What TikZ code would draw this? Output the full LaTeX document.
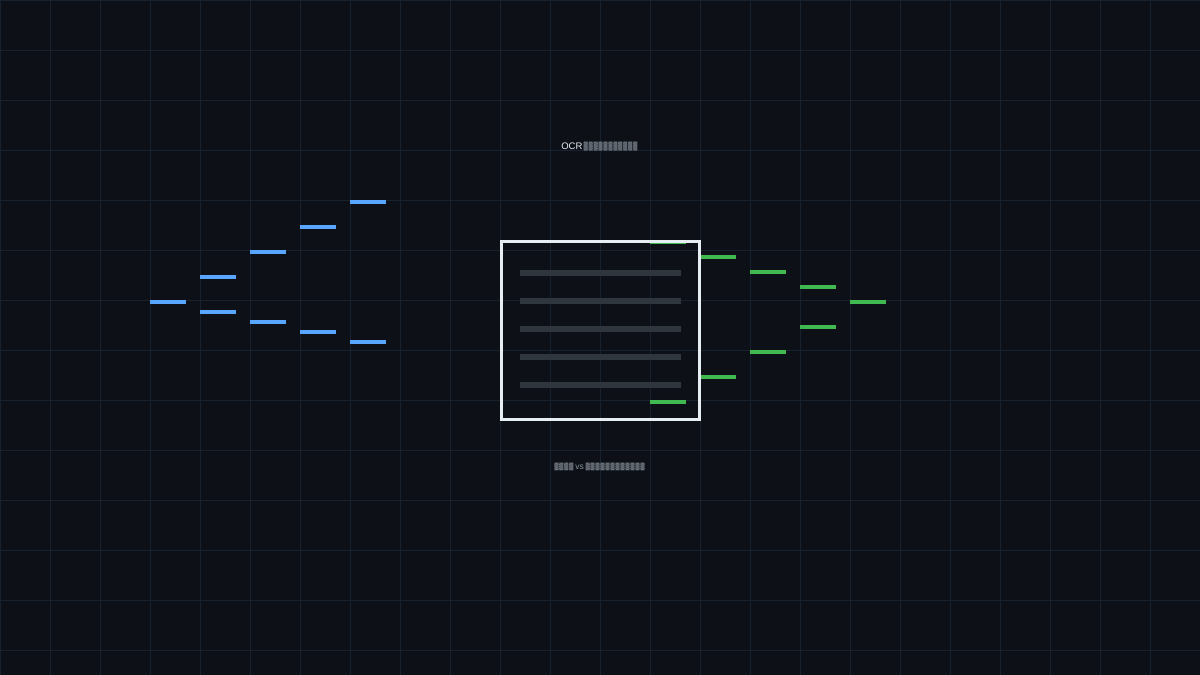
\documentclass[tikz,border=0pt]{standalone}
\usepackage{fontspec}
\setmainfont{Liberation Sans}
\newfontfamily\dv{DejaVu Sans}
\usepackage{graphicx}
\definecolor{bgc}{HTML}{0D1117}
\definecolor{gridc}{HTML}{18222F}
\definecolor{bluec}{HTML}{58A6FF}
\definecolor{greenc}{HTML}{3FB950}
\definecolor{framec}{HTML}{E6EDF3}
\definecolor{linec}{HTML}{30363D}
\definecolor{tofuc}{HTML}{8B949E}
\newcommand{\tf}{\scalebox{0.55}[1.2]{\dv ▩}}
\newcommand{\tfs}{\scalebox{0.62}[1.15]{\dv ▩}}
\tikzset{
  bbar/.style={draw=none, fill=bluec, minimum width=36pt, minimum height=4pt, inner sep=0pt},
  gbar/.style={draw=none, fill=greenc, minimum width=36pt, minimum height=4pt, inner sep=0pt},
  tline/.style={draw=none, fill=linec, minimum width=161pt, minimum height=6pt, inner sep=0pt},
  frame/.style={draw=framec, line width=3pt, minimum width=198pt, minimum height=177.5pt, inner sep=0pt},
  ttl/.style={text=framec, font=\fontsize{9.5pt}{12pt}\selectfont, inner sep=0pt},
  sub/.style={text=tofuc, font=\fontsize{8.5pt}{10pt}\selectfont, inner sep=0pt}
}
\begin{document}
\begin{tikzpicture}[x=1pt,y=-1pt]
\fill[bgc] (0,0) rectangle (1200,675);
\useasboundingbox (0,0) rectangle (1200,675);
\foreach \i in {0,50,...,1150} \draw[gridc, line width=1pt] (\i+0.5,0) -- (\i+0.5,675);
\foreach \j in {0,50,...,650} \draw[gridc, line width=1pt] (0,\j+0.5) -- (1200,\j+0.5);
% blue bars
\node[bbar] (b1) at (168,302) {};
\node[bbar] (b2) at (218,277) {};
\node[bbar] (b3) at (268,252) {};
\node[bbar] (b4) at (318,227) {};
\node[bbar] (b5) at (368,202) {};
\node[bbar] (b6) at (218,312) {};
\node[bbar] (b7) at (268,322) {};
\node[bbar] (b8) at (318,332) {};
\node[bbar] (b9) at (368,342) {};
% green bars
\node[gbar] (g0) at (668,242) {};
\node[gbar] (g1) at (718,257) {};
\node[gbar] (g2) at (768,272) {};
\node[gbar] (g3) at (818,287) {};
\node[gbar] (g4) at (868,302) {};
\node[gbar] (g5) at (818,327) {};
\node[gbar] (g6) at (768,352) {};
\node[gbar] (g7) at (718,377) {};
\node[gbar] (g8) at (668,402) {};
% document frame
\node[frame] (doc) at (600.5,330.25) {};
\node[tline] (l1) at (600.5,273) {};
\node[tline] (l2) at (600.5,301) {};
\node[tline] (l3) at (600.5,329) {};
\node[tline] (l4) at (600.5,357) {};
\node[tline] (l5) at (600.5,385) {};
% texts
\node[ttl] (title) at (599.5,146.5) {OCR\kern1pt\textcolor{tofuc}{\tf\tf\tf\tf\tf\tf\tf\tf\tf\tf\tf}};
\node[sub] (caption) at (599.5,466.5) {\tfs\tfs\tfs\tfs\,vs\,\tfs\tfs\tfs\tfs\tfs\tfs\tfs\tfs\tfs\tfs\tfs\tfs};
\end{tikzpicture}
\end{document}
